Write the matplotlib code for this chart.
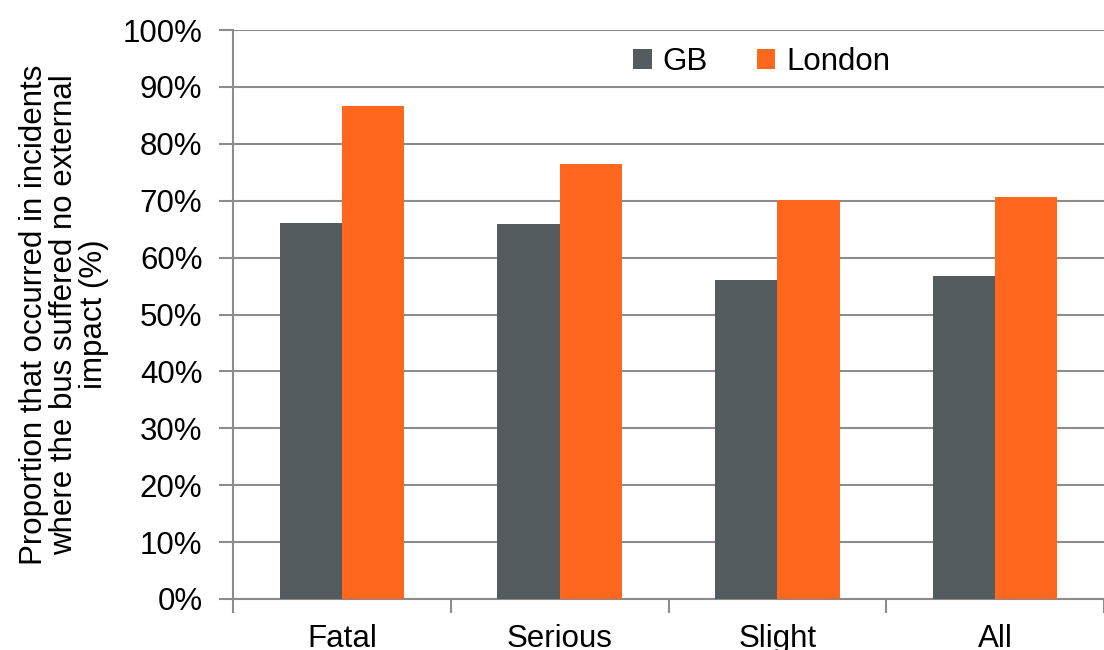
import matplotlib.pyplot as plt
import numpy as np

plt.rcParams['font.family'] = ['Liberation Sans', 'DejaVu Sans']

categories = ["Fatal", "Serious", "Slight", "All"]
gb = [66.0, 65.9, 56.1, 56.7]
london = [86.7, 76.5, 70.2, 70.6]
yticks = np.arange(0, 101, 10)

fig = plt.figure(figsize=(11.04, 6.5), dpi=100)
ax = fig.add_axes([233 / 1104, 1 - 599 / 650, 1 - 233 / 1104, (599 - 30) / 650])

x = np.arange(len(categories))
w = 0.286
ax.bar(x - w / 2, gb, w, color="#545b5e", label="GB", zorder=3)
ax.bar(x + w / 2, london, w, color="#ff671f", label="London", zorder=3)

ax.set_ylim(0, 100)
ax.set_xlim(-0.5, 3.42)
ax.set_yticks(yticks)
ax.set_yticklabels([f"{v}%" for v in yticks], fontsize=22.5)
ax.yaxis.grid(True, color="#8c8c8c", linewidth=1.5, zorder=0)

# category labels between boundary ticks
ax.set_xticks(np.arange(-0.5, 4, 1.0))
ax.set_xticklabels([])
ax.set_xticks(x, minor=True)
ax.set_xticklabels(categories, minor=True, fontsize=22.5)
ax.tick_params(axis="x", which="minor", length=0, pad=18)
ax.tick_params(axis="x", which="major", length=10, width=1.5, color="#8c8c8c")
ax.tick_params(axis="y", length=10, width=1.5, color="#8c8c8c", pad=12)

for s in ["top", "right"]:
    ax.spines[s].set_visible(False)
for s in ["left", "bottom"]:
    ax.spines[s].set_color("#8c8c8c")
    ax.spines[s].set_linewidth(1.5)

ax.set_ylabel("Proportion that occurred in incidents\nwhere the bus suffered no external\nimpact (%)",
              fontsize=22.5, linespacing=1.0, labelpad=10)

ax.legend(loc="center", bbox_to_anchor=(0.607, 0.944), ncol=2, frameon=False,
          fontsize=22.5, handlelength=0.6, handleheight=0.6, handletextpad=0.35, columnspacing=1.55)

fig.savefig("out.png", dpi=100)
